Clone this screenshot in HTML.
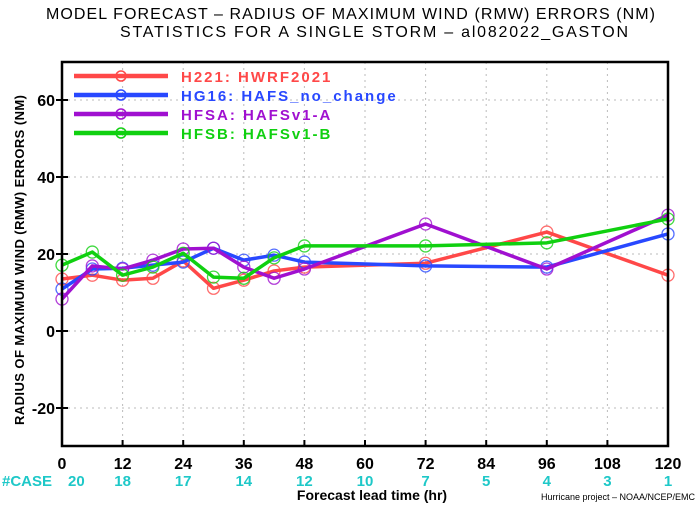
<!DOCTYPE html>
<html><head><meta charset="utf-8"><style>
body{margin:0;background:#fff;width:700px;height:503px;overflow:hidden}
svg text{font-family:"Liberation Sans",sans-serif;font-weight:bold}
</style></head><body>
<svg id="chart" width="700" height="503" xmlns="http://www.w3.org/2000/svg">
<text x="46" y="19" textLength="609" lengthAdjust="spacing" font-size="16" style="font-weight:normal" fill="#000">MODEL FORECAST – RADIUS OF MAXIMUM WIND (RMW) ERRORS (NM)</text>
<text x="120" y="37" textLength="508" lengthAdjust="spacing" font-size="16" style="font-weight:normal" fill="#000">STATISTICS FOR A SINGLE STORM – al082022_GASTON</text>
<g id="grid"></g>
<g id="series"></g>
<rect x="62" y="62" width="606" height="384" fill="none" stroke="#000" stroke-width="2.5"/>
<g id="axes"></g>
<g id="legend"></g>
<text transform="translate(24,260) rotate(-90)" text-anchor="middle" textLength="330" lengthAdjust="spacing" font-size="13">RADIUS OF MAXIMUM WIND (RMW) ERRORS (NM)</text>
<text x="2" y="486" font-size="15" fill="#1ec8c8">#CASE</text>
<text x="372" y="500" text-anchor="middle" font-size="14">Forecast lead time (hr)</text>
<text x="695" y="500" text-anchor="end" font-size="9" style="font-weight:normal">Hurricane project – NOAA/NCEP/EMC</text>
</svg>
<script>
const leadTimes=[0,6,12,18,24,30,36,42,48,72,96,120];
const xTicks=[0,12,24,36,48,60,72,84,96,108,120];
const caseCounts=[20,18,17,14,12,10,7,5,4,3,1];
const yTicks=[60,40,20,0,-20];
const seriesNames=["H221: HWRF2021","HG16: HAFS_no_change","HFSA: HAFSv1-A","HFSB: HAFSv1-B"];
const seriesColors=["#ff4848","#2848ff","#a010d0","#10d010"];
const h221=[13.5,14.5,13.2,13.7,18.2,11.1,13.2,15.6,16.6,17.6,25.7,14.5];
const hg16=[10.9,16.1,16.3,17.1,17.9,21.5,18.4,19.7,17.9,16.9,16.6,25.2];
const hfsa=[8.3,16.9,16.1,18.4,21.3,21.5,16.6,13.7,16.1,27.8,16.1,30.1];
const hfsb=[17.1,20.5,14.5,16.6,20.2,14,13.7,19,22.1,22.1,22.9,29.1];
const allSeries=[h221,hg16,hfsa,hfsb];
const seriesKeys=["h221","hg16","hfsa","hfsb"];
const NS="http://www.w3.org/2000/svg";
const X=v=>62+v*(606/120);
const Y=v=>331-v*3.85;
function mk(t,a,p){const e=document.createElementNS(NS,t);for(const k in a)e.setAttribute(k,a[k]);p.appendChild(e);return e;}
const grid=document.getElementById('grid'),axes=document.getElementById('axes'),ser=document.getElementById('series'),leg=document.getElementById('legend');
xTicks.forEach((t,i)=>{
 const g=mk('line',{x1:X(t),x2:X(t),y1:62,y2:446,stroke:'#bbb','stroke-dasharray':'2,4'},grid);
 
 
 const tk=mk('line',{x1:X(t),x2:X(t),y1:446,y2:440,stroke:'#000','stroke-width':2},axes);
 
 
 const tl=mk('text',{x:X(t),y:469,'text-anchor':'middle','font-size':16},axes);
 tl.textContent=t;
 
 
 const cl=mk('text',{x:i==0?X(t)+6:X(t),y:486,'text-anchor':i==0?'start':'middle','font-size':15,fill:'#1ec8c8'},axes);
 cl.textContent=caseCounts[i];
 
 
});
yTicks.forEach(t=>{
 const g=mk('line',{x1:62,x2:668,y1:Y(t),y2:Y(t),stroke:'#bbb','stroke-dasharray':'2,4'},grid);
 
 
 const tk=mk('line',{x1:56,x2:68,y1:Y(t),y2:Y(t),stroke:'#000','stroke-width':2},axes);
 
 
 const tl=mk('text',{x:55,y:Y(t)+6,'text-anchor':'end','font-size':16},axes);
 tl.textContent=t;
 
 
});
allSeries.forEach((d,s)=>{
 const c=seriesColors[s];
 const pl=mk('polyline',{points:d.map((v,i)=>X(leadTimes[i])+','+Y(v)).join(' '),fill:'none',stroke:c,'stroke-width':3.5,'stroke-linejoin':'round'},ser);
 
 
 d.forEach((v,i)=>{
  const p=mk('circle',{cx:X(leadTimes[i]),cy:Y(v),r:6,fill:'none',stroke:c,'stroke-width':1.3,opacity:0.8},ser);
  
  
 });
 const ly=76+s*19;
 const ll=mk('line',{x1:74,x2:168,y1:ly,y2:ly,stroke:c,'stroke-width':4.5},leg);
 
 
 const lc=mk('circle',{cx:121,cy:ly,r:5,fill:'none',stroke:c,'stroke-width':1.5},leg);
 
 
 const lt=mk('text',{x:181,y:ly+6,'font-size':15,fill:c,'letter-spacing':'2'},leg);
 lt.textContent=seriesNames[s];
 
 
});
</script>
</body></html>
